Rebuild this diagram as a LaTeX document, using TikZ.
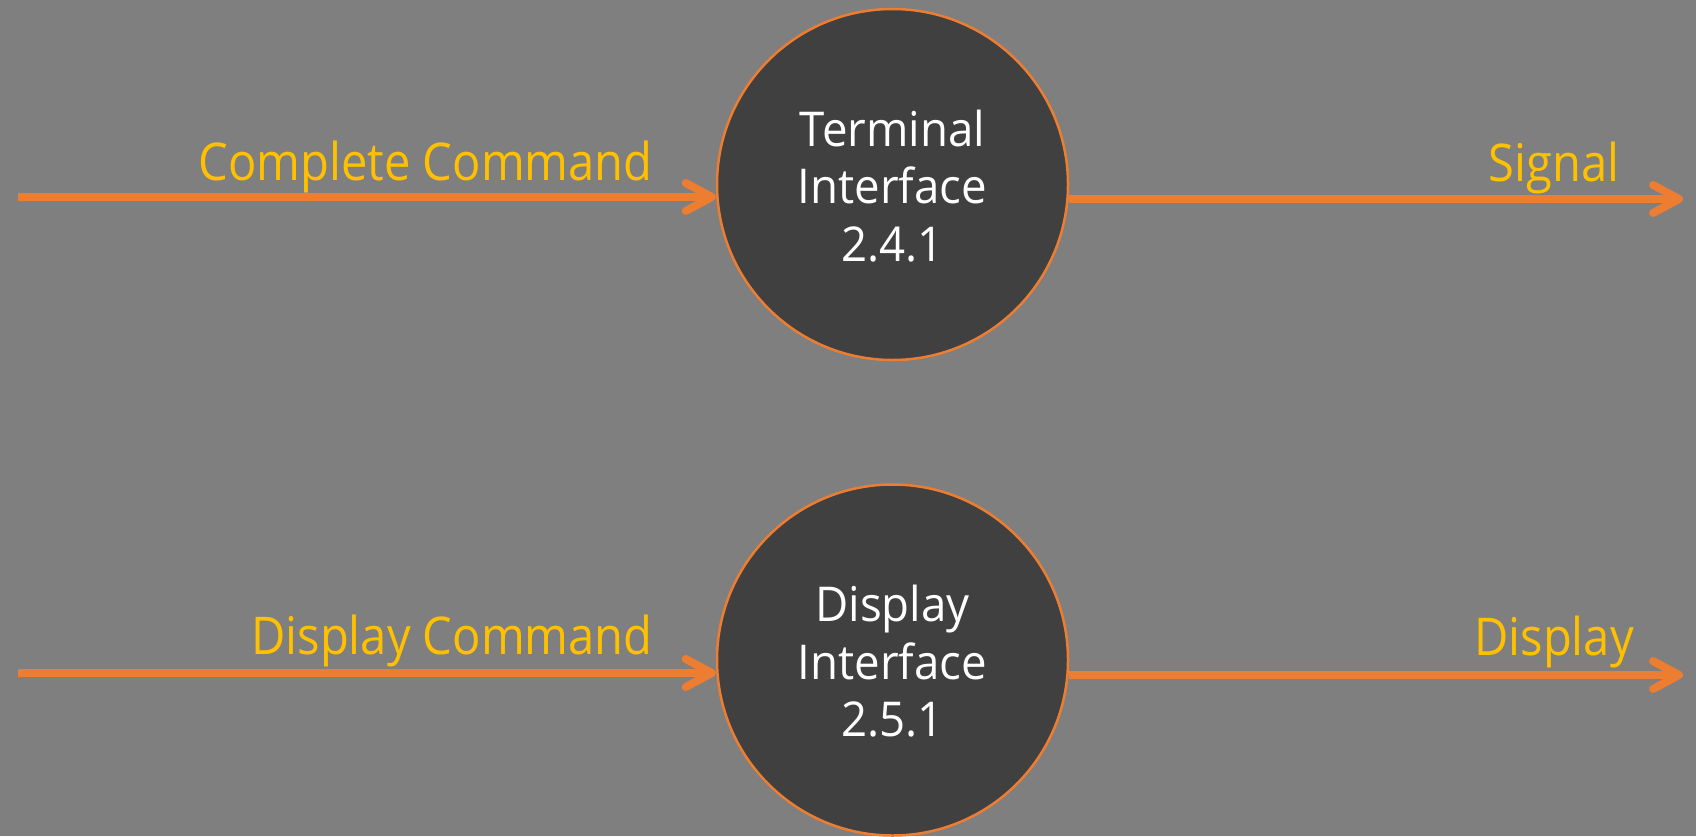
\documentclass[tikz,border=0pt]{standalone}
\usepackage{fontspec}
\setmainfont{Open Sans}
\newfontfamily\lblfont{Open Sans}[FakeStretch=0.906]
\newfontfamily\circfont{Open Sans}[FakeStretch=0.95]
\usetikzlibrary{arrows.meta,calc}
\definecolor{bg}{HTML}{7F7F7F}
\definecolor{dark}{HTML}{404040}
\definecolor{orng}{HTML}{ED7D31}
\definecolor{gold}{HTML}{FFC000}
\newcommand\lnstrut{\rule[-7pt]{0pt}{52pt}}
\begin{document}
\begin{tikzpicture}[x=1pt,y=-1pt,
 proc/.style={circle, draw=orng, line width=2.5pt, fill=dark, minimum size=351pt, inner sep=0pt, text=white, align=center, font=\circfont\fontsize{48}{57.5}\selectfont},
 flow/.style={draw=orng, line width=8pt, -{Straight Barb[length=26pt,width=28pt,round]}},
 lbl/.style={text=gold, font=\lblfont\fontsize{52}{60}\selectfont, inner sep=0pt}]
\fill[bg] (0,0) rectangle (1696,836);
\useasboundingbox (0,0) rectangle (1696,836);
\node[proc] (t) at (892.5,184.5) {\lnstrut Terminal\\\lnstrut Interface\\\lnstrut 2.4.1};
\node[proc] (d) at (892.5,660) {\lnstrut Display\\\lnstrut Interface\\\lnstrut 2.5.1};
\coordinate (s1) at (18,197);
\coordinate (e1) at (1683,199);
\coordinate (s2) at (18,673);
\coordinate (e2) at (1683,675);
\draw[flow] (s1) -- (s1 -| t.west);
\draw[flow] (e1 -| t.east) -- (e1);
\draw[flow] (s2) -- (s2 -| d.west);
\draw[flow] (e2 -| d.east) -- (e2);
\node[lbl, anchor=base east] (l1) at (653,180) {Complete Command};
\node[lbl, anchor=base] (l2) at (1554,181) {Signal};
\node[lbl, anchor=base east] (l3) at (653,654) {Display Command};
\node[lbl, anchor=base] (l4) at (1554,655) {Display};
\end{tikzpicture}
\end{document}
